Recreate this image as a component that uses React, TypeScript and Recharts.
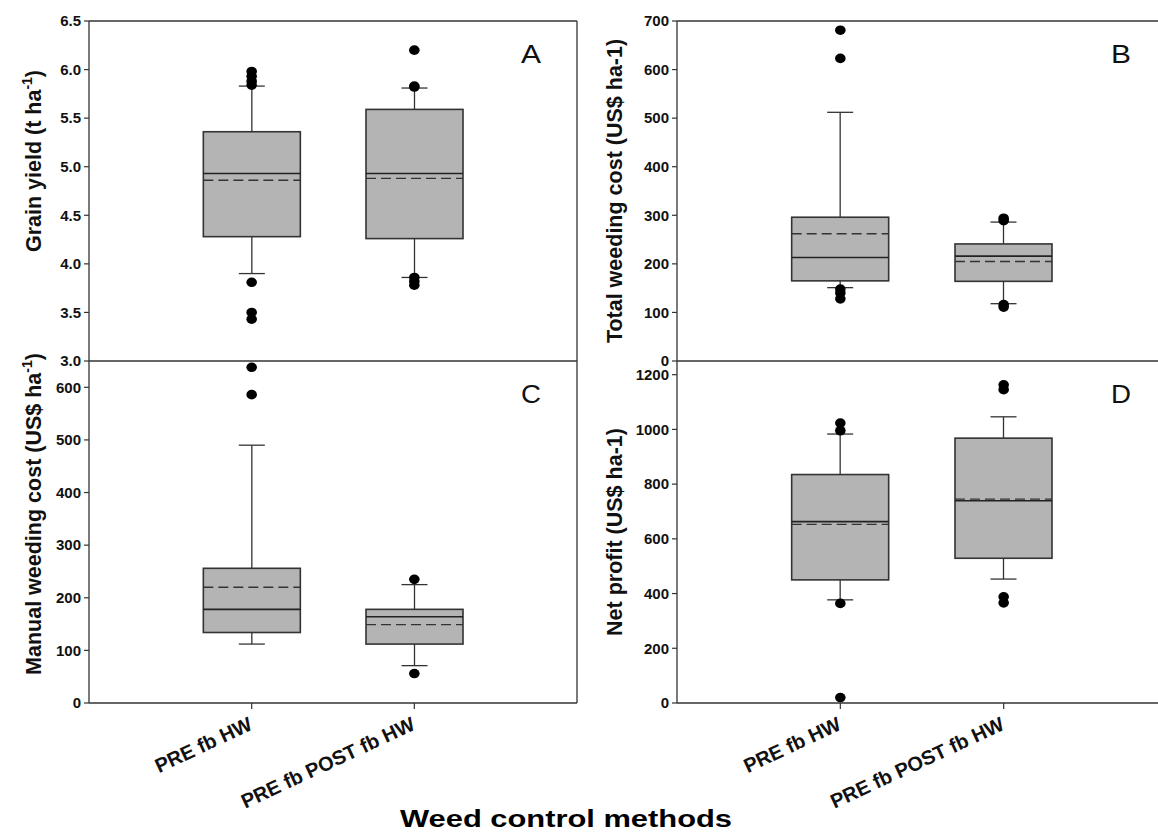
import React from 'react';
import { ComposedChart, Bar, Scatter, XAxis, YAxis } from 'recharts';

const methods = ['PRE fb HW', 'PRE fb POST fb HW'];

// A: grain yield (t/ha)
const yieldLow = [3.9, 3.86];
const yieldQ1 = [4.28, 4.26];
const yieldMedian = [4.93, 4.93];
const yieldMean = [4.86, 4.88];
const yieldQ3 = [5.36, 5.59];
const yieldHigh = [5.83, 5.81];
const yieldOutliers = [
  [5.98, 5.93, 5.88, 5.84, 3.81, 3.5, 3.43],
  [6.2, 5.83, 5.82, 3.86, 3.82, 3.78],
];
const yieldTicks = [3, 3.5, 4, 4.5, 5, 5.5, 6, 6.5];

// B: total weeding cost (US$/ha)
const totalLow = [151, 118];
const totalQ1 = [165, 164];
const totalMedian = [213, 216];
const totalMean = [262, 205];
const totalQ3 = [296, 241];
const totalHigh = [512, 286];
const totalOutliers = [
  [681, 623, 148, 140, 128],
  [294, 289, 116, 111],
];
const totalTicks = [0, 100, 200, 300, 400, 500, 600, 700];

// C: manual weeding cost (US$/ha)
const manualLow = [112, 71];
const manualQ1 = [134, 112];
const manualMedian = [178, 164];
const manualMean = [220, 149];
const manualQ3 = [256, 178];
const manualHigh = [490, 225];
const manualOutliers = [
  [638, 586],
  [235, 56],
];
const manualTicks = [0, 100, 200, 300, 400, 500, 600];

// D: net profit (US$/ha)
const profitLow = [377, 453];
const profitQ1 = [450, 529];
const profitMedian = [663, 739];
const profitMean = [653, 745];
const profitQ3 = [835, 968];
const profitHigh = [983, 1046];
const profitOutliers = [
  [1023, 995, 364, 20],
  [1163, 1145, 388, 366],
];
const profitTicks = [0, 200, 400, 600, 800, 1000, 1200];

const MAX_OUT = 7;
const outKeys = Array.from({ length: MAX_OUT }, (_, i) => `o${i}`);

const buildRows = (lo, q1, med, mean, q3, hi, outs) =>
  methods.map((m, i) => {
    const row: any = { method: m, whisker: [lo[i], hi[i]], q1: q1[i], median: med[i], mean: mean[i], q3: q3[i] };
    outs[i].forEach((v, k) => (row[`o${k}`] = v));
    return row;
  });

const AXIS = '#333';
const INK = '#111';

const BoxShape = (props: any) => {
  const { x, y, width, height, payload } = props;
  if (x == null || !payload) return <g />;
  const [lo, hi] = payload.whisker;
  const top = Math.min(y, y + height);
  const span = Math.abs(height);
  const py = (v: number) => top + ((hi - v) / (hi - lo)) * span;
  const cx = x + width / 2;
  const cap = 13;
  const q1y = py(payload.q1);
  const q3y = py(payload.q3);
  return (
    <g>
      <line x1={cx} x2={cx} y1={top} y2={top + span} stroke={AXIS} strokeWidth={1.3} />
      <line x1={cx - cap} x2={cx + cap} y1={top} y2={top} stroke={AXIS} strokeWidth={1.3} />
      <line x1={cx - cap} x2={cx + cap} y1={top + span} y2={top + span} stroke={AXIS} strokeWidth={1.3} />
      <rect x={x} y={q3y} width={width} height={q1y - q3y} fill="#b4b4b4" stroke={AXIS} strokeWidth={1.6} />
      <line x1={x} x2={x + width} y1={py(payload.median)} y2={py(payload.median)} stroke="#222" strokeWidth={1.6} />
      <line x1={x} x2={x + width} y1={py(payload.mean)} y2={py(payload.mean)} stroke="#333" strokeWidth={1.4} strokeDasharray="10 5" />
    </g>
  );
};

const OutlierDot = (props: any) => {
  const { cx, cy } = props;
  if (cx == null || cy == null || !isFinite(cx) || !isFinite(cy)) return <g />;
  return <ellipse cx={cx} cy={cy} rx={5.3} ry={4.8} fill="#000" />;
};

// rotated category label, anchored just under the axis line
const MethodTick = (props: any) => {
  const { x, payload, axisY } = props;
  return (
    <text
      transform={`translate(${x + 2},${axisY + 26}) rotate(-25)`}
      textAnchor="end"
      fontSize={20}
      fontWeight="bold"
      fill={INK}
    >
      {payload.value}
    </text>
  );
};

const YTitle = (props: any) => {
  const { viewBox, text, sup, tail, baseX, shift } = props;
  const cx = viewBox.x + baseX;
  const cy = viewBox.y + viewBox.height / 2 + shift;
  return (
    <text transform={`translate(${cx},${cy}) rotate(-90)`} textAnchor="middle" fontSize={21.5} fontWeight="bold" fill={INK}>
      {text}
      {sup ? <tspan dy={-9} fontSize={14}>{sup}</tspan> : null}
      {sup ? <tspan dy={9}>{tail}</tspan> : null}
    </text>
  );
};

type PanelProps = {
  rows: any[];
  domain: [number, number];
  ticks: number[];
  fmt?: (v: number) => string;
  left: number;
  top: number;
  height: number;
  marginTop: number;
  marginBottom: number;
  yWidth: number;
  bottomPanel: boolean;
  letter: string;
  title: string;
  sup?: string;
  tail?: string;
  titleX: number;
  titleShift: number;
};

const CHART_W = 580;
const MARGIN_R = 3;

const Panel = (p: PanelProps) => {
  const plotW = CHART_W - MARGIN_R - p.yWidth;
  const pad = plotW / 6;
  const xHeight = p.bottomPanel ? 60 : 0;
  const axisY = p.height - p.marginBottom - xHeight;
  return (
    <div style={{ position: 'absolute', left: p.left, top: p.top }}>
      <ComposedChart
        width={CHART_W}
        height={p.height}
        data={p.rows}
        margin={{ top: p.marginTop, right: MARGIN_R, bottom: p.marginBottom, left: 0 }}
      >
        <XAxis
          dataKey="method"
          type="category"
          padding={{ left: pad, right: pad }}
          interval={0}
          mirror={!p.bottomPanel}
          height={xHeight}
          tick={p.bottomPanel ? <MethodTick axisY={axisY} /> : false}
          tickSize={6}
          axisLine={{ stroke: AXIS, strokeWidth: 1.3 }}
          tickLine={{ stroke: AXIS, strokeWidth: 1.2 }}
        />
        <XAxis
          xAxisId="top"
          dataKey="method"
          orientation="top"
          mirror
          tick={false}
          tickLine={false}
          axisLine={{ stroke: AXIS, strokeWidth: 1.3 }}
        />
        <YAxis
          type="number"
          domain={p.domain}
          ticks={p.ticks}
          interval={0}
          allowDataOverflow
          width={p.yWidth}
          tickSize={5}
          tickMargin={3}
          tickFormatter={p.fmt}
          tick={{ fill: INK, fontSize: 15, fontWeight: 'bold' }}
          axisLine={{ stroke: AXIS, strokeWidth: 1.3 }}
          tickLine={{ stroke: AXIS, strokeWidth: 1.2 }}
          label={<YTitle text={p.title} sup={p.sup} tail={p.tail} baseX={p.titleX} shift={p.titleShift} />}
        />
        <YAxis
          yAxisId="right"
          orientation="right"
          mirror
          type="number"
          domain={p.domain}
          tick={false}
          tickLine={false}
          axisLine={{ stroke: AXIS, strokeWidth: 1.3 }}
        />
        <Bar dataKey="whisker" barSize={97} shape={<BoxShape />} isAnimationActive={false} />
        {outKeys.map((k) => (
          <Scatter key={k} dataKey={k} shape={<OutlierDot />} isAnimationActive={false} />
        ))}
      </ComposedChart>
      <svg
        width={CHART_W}
        height={p.height}
        style={{ position: 'absolute', left: 0, top: 0, pointerEvents: 'none' }}
      >
        <text
          x={CHART_W - MARGIN_R - 46}
          y={p.marginTop + 42}
          textAnchor="middle"
          fontSize={25}
          textLength={20}
          lengthAdjust="spacingAndGlyphs"
          fill={INK}
        >
          {p.letter}
        </text>
      </svg>
    </div>
  );
};

const yieldRows = buildRows(yieldLow, yieldQ1, yieldMedian, yieldMean, yieldQ3, yieldHigh, yieldOutliers);
const totalRows = buildRows(totalLow, totalQ1, totalMedian, totalMean, totalQ3, totalHigh, totalOutliers);
const manualRows = buildRows(manualLow, manualQ1, manualMedian, manualMean, manualQ3, manualHigh, manualOutliers);
const profitRows = buildRows(profitLow, profitQ1, profitMedian, profitMean, profitQ3, profitHigh, profitOutliers);

export default function App() {
  return (
    <div
      style={{
        position: 'fixed',
        left: 0,
        top: 0,
        width: 1158,
        height: 837,
        overflow: 'hidden',
        background: '#fff',
        fontFamily: '"Liberation Sans", Arial, sans-serif',
      }}
    >
      <Panel
        rows={yieldRows}
        domain={[3, 6.5]}
        ticks={yieldTicks}
        fmt={(v) => v.toFixed(1)}
        left={0}
        top={0}
        height={380}
        marginTop={21}
        marginBottom={19}
        yWidth={89}
        bottomPanel={false}
        letter="A"
        title="Grain yield (t ha"
        sup="-1"
        tail=")"
        titleX={41}
        titleShift={-30}
      />
      <Panel
        rows={totalRows}
        domain={[0, 700]}
        ticks={totalTicks}
        left={590}
        top={0}
        height={380}
        marginTop={21}
        marginBottom={19}
        yWidth={87}
        bottomPanel={false}
        letter="B"
        title="Total weeding cost (US$ ha-1)"
        titleX={32}
        titleShift={0}
      />
      <Panel
        rows={manualRows}
        domain={[0, 650]}
        ticks={manualTicks}
        left={0}
        top={337}
        height={500}
        marginTop={24}
        marginBottom={74}
        yWidth={89}
        bottomPanel
        letter="C"
        title="Manual weeding cost (US$ ha"
        sup="-1"
        tail=")"
        titleX={41}
        titleShift={-18}
      />
      <Panel
        rows={profitRows}
        domain={[0, 1250]}
        ticks={profitTicks}
        left={590}
        top={337}
        height={500}
        marginTop={24}
        marginBottom={74}
        yWidth={87}
        bottomPanel
        letter="D"
        title="Net profit (US$ ha-1)"
        titleX={32}
        titleShift={0}
      />
      <svg width={1158} height={837} style={{ position: 'absolute', left: 0, top: 0, pointerEvents: 'none' }}>
        <text
          x={566}
          y={827}
          textAnchor="middle"
          fontSize={23}
          fontWeight="bold"
          textLength={332}
          lengthAdjust="spacingAndGlyphs"
          fill="#000"
        >
          Weed control methods
        </text>
      </svg>
    </div>
  );
}
